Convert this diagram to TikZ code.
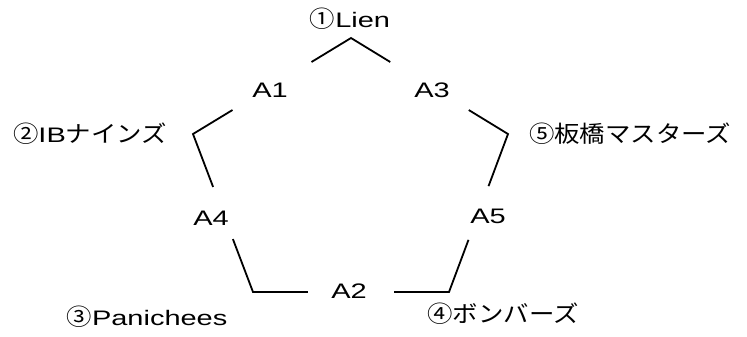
\documentclass[tikz,border=0pt]{standalone}
\usepackage{fontspec}
\usetikzlibrary{calc}
\newfontfamily\jpfont[Scale=1.1,FakeStretch=1.1]{Noto Sans CJK JP}
\newfontfamily\latfont[FakeStretch=1.38]{Liberation Sans}
\newcommand{\jtxt}[1]{{\jpfont #1}}
\begin{document}
\begin{tikzpicture}[x=1bp,y=-1bp,
  lab/.style={inner sep=0pt, font=\fontsize{21bp}{24bp}\selectfont\latfont},
  edge/.style={line width=1.8bp, line join=miter}]
\useasboundingbox (0,0) rectangle (747,336);
% vertices
\coordinate (v1) at (351,38);
\coordinate (v2) at (193,134);
\coordinate (v3) at (253,292);
\coordinate (v4) at (449,292);
\coordinate (v5) at (508,134);
% segment ends
\coordinate (a1l) at ($(v2)!0.25!(v1)$);
\coordinate (a1r) at ($(v1)!0.25!(v2)$);
\coordinate (a3l) at ($(v1)!0.25!(v5)$);
\coordinate (a3r) at ($(v5)!0.25!(v1)$);
\coordinate (a4t) at ($(v2)!0.335!(v3)$);
\coordinate (a4b) at ($(v3)!0.335!(v2)$);
\coordinate (a2l) at ($(v3)!0.28!(v4)$);
\coordinate (a2r) at ($(v4)!0.28!(v3)$);
\coordinate (a5b) at ($(v4)!0.33!(v5)$);
\coordinate (a5t) at ($(v5)!0.33!(v4)$);
% edges
\draw[edge] (a1r) -- (v1) -- (a3l);
\draw[edge] (a3r) -- (v5) -- (a5t);
\draw[edge] (a5b) -- (v4) -- (a2r);
\draw[edge] (a2l) -- (v3) -- (a4b);
\draw[edge] (a4t) -- (v2) -- (a1l);
% edge labels
\node[lab] (A1) at (270,90) {A1};
\node[lab] (A3) at (432,90) {A3};
\node[lab] (A2) at (349,291) {A2};
\node[lab] (A4) at (211,218) {A4};
\node[lab] (A5) at (488,216) {A5};
% team labels
\node[lab] (t1) at (350,19) {\jtxt{①}Lien};
\node[lab] (t2) at (90,134) {\jtxt{②}IB\jtxt{ナインズ}};
\node[lab] (t3) at (147,317) {\jtxt{③}Panichees};
\node[lab] (t4) at (503,314) {\jtxt{④ボンバーズ}};
\node[lab] (t5) at (630,134) {\jtxt{⑤板橋マスターズ}};
\end{tikzpicture}
\end{document}
